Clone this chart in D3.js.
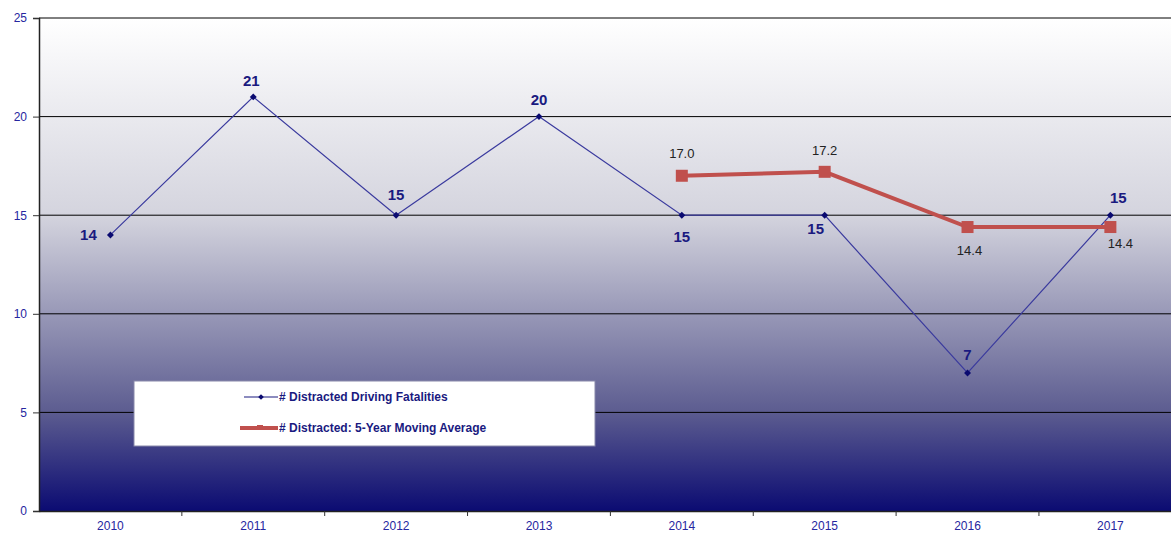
<!DOCTYPE html>
<html>
  <head>
    <title>Distracted Driving Fatalities</title>
    <script src="https://d3js.org/d3.v7.min.js"></script>
    <style>
      body { margin: 0; background: #fff; }
      svg { display: block; font-family: "Liberation Sans", Arial, sans-serif; }
      .tick text { fill: #2626a0; font-size: 12px; }
      .tick line { stroke: #333; }
    </style>
  </head>
  <body>
    <div id="chart"></div>
    <script>
      // Data
      const years = ["2010", "2011", "2012", "2013", "2014", "2015", "2016", "2017"];
      const fatalities = [14, 21, 15, 20, 15, 15, 7, 15];
      const movingAvg = [null, null, null, null, 17.0, 17.2, 14.4, 14.4];
      const yTicks = [0, 5, 10, 15, 20, 25];
      const seriesNames = ["# Distracted Driving Fatalities", "# Distracted: 5-Year Moving Average"];

      // label placement (dx, dy from the point)
      const blueLabelPos = [[-22, 5], [-2, -11], [0, -15], [0, -12], [0, 27], [-9, 19], [0, -13], [8, -12]];
      const redLabelPos = [null, null, null, null, [0, -18], [0, -17], [2, 28], [10, 21]];

      const W = 1171, H = 535;
      const margin = { top: 18, left: 39, bottom: 24 };
      const plotBottom = H - margin.bottom;

      const svg = d3.select("#chart").append("svg").attr("width", W).attr("height", H);

      const x = d3.scaleBand().domain(years).range([margin.left, margin.left + 8 * 142.85]);
      const y = d3.scaleLinear().domain([0, 25]).range([plotBottom, margin.top]);

      // background gradient
      const defs = svg.append("defs");
      const grad = defs.append("linearGradient").attr("id", "bg").attr("x1", 0).attr("y1", 0).attr("x2", 0).attr("y2", 1);
      grad.append("stop").attr("offset", "0%").attr("stop-color", "#ffffff");
      grad.append("stop").attr("offset", "40%").attr("stop-color", "#d4d4de");
      grad.append("stop").attr("offset", "80%").attr("stop-color", "#5c5c90");
      grad.append("stop").attr("offset", "100%").attr("stop-color", "#0b0b72");

      svg.append("rect")
        .attr("x", margin.left).attr("y", y(25))
        .attr("width", W - margin.left).attr("height", y(0) - y(25))
        .attr("fill", "url(#bg)");

      // gridlines
      svg.append("g").selectAll("line").data(yTicks.filter(d => d > 0)).join("line")
        .attr("x1", margin.left).attr("x2", W)
        .attr("y1", d => y(d)).attr("y2", d => y(d))
        .attr("stroke", "#000").attr("stroke-width", 1);

      // y axis
      const yAxis = svg.append("g").attr("transform", `translate(${margin.left},0)`)
        .call(d3.axisLeft(y).tickValues(yTicks).tickSize(6).tickPadding(6));
      yAxis.select(".domain").attr("stroke", "#222").attr("stroke-width", 1.5);

      // x axis with ticks on category boundaries
      const xAxis = svg.append("g").attr("transform", `translate(0,${plotBottom})`)
        .call(d3.axisBottom(x).tickSize(0).tickPadding(10));
      xAxis.select(".domain").attr("stroke", "#222").attr("stroke-width", 1.5);
      svg.append("g").selectAll("line").data(years.slice(1)).join("line")
        .attr("x1", d => x(d)).attr("x2", d => x(d))
        .attr("y1", plotBottom).attr("y2", plotBottom + 5)
        .attr("stroke", "#333");

      const cx = d => x(d) + x.bandwidth() / 2;
      const diamond = d3.symbol(d3.symbolSquare, 24);

      // blue series
      const blue = years.map((yr, i) => ({ yr, v: fatalities[i], i }));
      svg.append("path").datum(blue)
        .attr("fill", "none").attr("stroke", "#3a3a9e").attr("stroke-width", 1.2)
        .attr("d", d3.line().x(d => cx(d.yr)).y(d => y(d.v)));
      svg.append("g").selectAll("path").data(blue).join("path")
        .attr("transform", d => `translate(${cx(d.yr)},${y(d.v)}) rotate(45)`)
        .attr("d", diamond)
        .attr("fill", "#0a0a70");

      // red series
      const red = years.map((yr, i) => ({ yr, v: movingAvg[i], i })).filter(d => d.v != null);
      svg.append("path").datum(red)
        .attr("fill", "none").attr("stroke", "#c0504d").attr("stroke-width", 4)
        .attr("d", d3.line().x(d => cx(d.yr)).y(d => y(d.v)));
      svg.append("g").selectAll("rect").data(red).join("rect")
        .attr("x", d => cx(d.yr) - 6).attr("y", d => y(d.v) - 6)
        .attr("width", 12).attr("height", 12)
        .attr("fill", "#c0504d");

      // labels
      svg.append("g").selectAll("text").data(blue).join("text")
        .attr("x", d => cx(d.yr) + blueLabelPos[d.i][0])
        .attr("y", d => y(d.v) + blueLabelPos[d.i][1])
        .attr("text-anchor", "middle")
        .attr("font-size", "15px").attr("font-weight", "bold")
        .attr("fill", "#1a1a80")
        .text(d => d.v);
      svg.append("g").selectAll("text").data(red).join("text")
        .attr("x", d => cx(d.yr) + redLabelPos[d.i][0])
        .attr("y", d => y(d.v) + redLabelPos[d.i][1])
        .attr("text-anchor", "middle")
        .attr("font-size", "13px")
        .attr("fill", "#222")
        .text(d => d.v.toFixed(1));

      // legend
      const lg = svg.append("g").attr("transform", "translate(134,381)");
      lg.append("rect").attr("width", 461).attr("height", 65)
        .attr("fill", "#fff").attr("stroke", "#8888aa").attr("stroke-width", 1);
      const rows = [{ y: 16, color: "#1a1a80", w: 1.2 }, { y: 47, color: "#c0504d", w: 4 }];
      rows.forEach((r, i) => {
        lg.append("line").attr("x1", i ? 106 : 110).attr("x2", 144)
          .attr("y1", r.y).attr("y2", r.y)
          .attr("stroke", r.color).attr("stroke-width", r.w);
        if (i === 0) {
          lg.append("path").attr("transform", `translate(127,${r.y}) rotate(45)`)
            .attr("d", d3.symbol(d3.symbolSquare, 16)).attr("fill", "#0a0a70");
        } else {
          lg.append("rect").attr("x", 123).attr("y", r.y - 3).attr("width", 6).attr("height", 3).attr("fill", r.color);
        }
        lg.append("text").attr("x", 145).attr("y", r.y + 4)
          .attr("font-size", "12px").attr("font-weight", "bold")
          .attr("fill", "#1a1a80")
          .text(seriesNames[i]);
      });
    </script>
  </body>
</html>
